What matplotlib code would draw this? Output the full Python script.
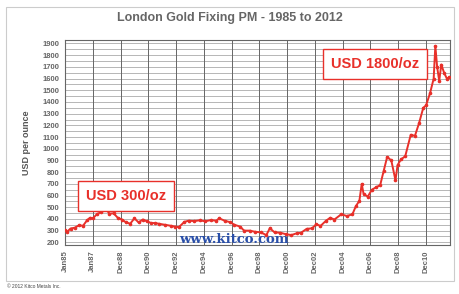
import numpy as np
import matplotlib.pyplot as plt

plt.rcParams['font.family'] = ['Liberation Sans', 'DejaVu Sans']

# London PM fix, approximate readings (decimal year, USD/oz)
dates = [1985.0, 1985.15, 1985.4, 1985.7, 1986.0, 1986.3, 1986.6, 1986.8,
         1987.0, 1987.3, 1987.6, 1987.95, 1988.2, 1988.5, 1988.8, 1989.1,
         1989.4, 1989.7, 1990.0, 1990.3, 1990.6, 1990.9, 1991.2, 1991.5,
         1991.8, 1992.2, 1992.6, 1992.9, 1993.2, 1993.6, 1993.9, 1994.3,
         1994.7, 1995.1, 1995.5, 1995.9, 1996.1, 1996.5, 1996.9, 1997.2,
         1997.6, 1997.9, 1998.3, 1998.7, 1999.1, 1999.5, 1999.75, 2000.1,
         2000.5, 2000.9, 2001.3, 2001.7, 2002.0, 2002.4, 2002.8, 2003.1,
         2003.4, 2003.8, 2004.1, 2004.4, 2004.9, 2005.3, 2005.7, 2005.95,
         2006.2, 2006.37, 2006.5, 2006.8, 2007.1, 2007.4, 2007.7, 2007.95,
         2008.2, 2008.5, 2008.8, 2008.95, 2009.2, 2009.5, 2009.9, 2010.2,
         2010.5, 2010.8, 2011.0, 2011.3, 2011.55, 2011.67, 2011.8, 2011.95,
         2012.1, 2012.3, 2012.5, 2012.65]
prices = [303, 290, 318, 325, 345, 342, 390, 410,
          405, 440, 460, 485, 445, 448, 410, 395,
          370, 360, 405, 370, 395, 380, 365, 365,
          358, 350, 342, 335, 330, 375, 385, 382,
          388, 380, 390, 385, 405, 385, 372, 350,
          335, 300, 300, 290, 285, 262, 320, 285,
          282, 270, 262, 278, 282, 315, 320, 355,
          340, 385, 410, 395, 440, 425, 440, 510,
          555, 700, 615, 590, 650, 670, 690, 810,
          930, 900, 730, 860, 910, 935, 1120, 1110,
          1220, 1350, 1370, 1480, 1600, 1880, 1700, 1580,
          1720, 1650, 1600, 1610]

ytick_vals = list(range(200, 2000, 100))
xtick_years = [1985, 1987] + list(range(1989, 2012, 2))
xtick_labels = ['Jan85', 'Jan87'] + ['Dec%02d' % ((y - 1) % 100) for y in range(1989, 2012, 2)]

fig = plt.figure(figsize=(4.59, 2.94), dpi=100)
fig.patch.set_facecolor('white')
ax = fig.add_axes([0.1416, 0.167, 0.838, 0.697])

ax.set_xlim(1985, 2012.7)
ax.set_ylim(178, 1930)
for yv in range(200, 1950, 50):
    ax.axhline(yv, color='#9a9a9a', lw=0.5, zorder=1)
for xv in xtick_years:
    ax.axvline(xv, color='#666666', lw=0.7, zorder=1)

ax.plot(dates, prices, color='#e8302a', lw=1.4, zorder=3)
ax.plot(dates, prices, 'o', color='#e8302a', ms=1.6, zorder=3)

ax.set_yticks(ytick_vals)
ax.set_yticklabels([str(v) for v in ytick_vals], fontsize=5.5, color='#666666',
                   fontweight='bold')
ax.set_xticks(xtick_years)
ax.set_xticklabels(xtick_labels, rotation=90, fontsize=5.5, color='#666666',
                   fontweight='bold')
ax.tick_params(length=0, pad=4)
for s in ax.spines.values():
    s.set_color('#666666')
    s.set_linewidth(0.8)

ax.set_ylabel('USD per ounce', fontsize=6.5, color='#555555', fontweight='bold',
              labelpad=8)

fig.text(0.5, 0.939, 'London Gold Fixing PM - 1985 to 2012', ha='center',
         va='center', fontsize=9, color='#666666', fontweight='bold')

box = dict(boxstyle='square,pad=0.55', facecolor='white', edgecolor='#e8302a', lw=1.0)
ax.text(1989.4, 600, 'USD 300/oz', fontsize=10.5, color='#e8302a', fontweight='bold',
        ha='center', va='center', bbox=box, zorder=4)
ax.text(2007.3, 1724, 'USD 1800/oz', fontsize=10.5, color='#e8302a', fontweight='bold',
        ha='center', va='center', bbox=box, zorder=4)

ax.text(1993.2, 192, 'www.kitco.com', fontsize=9.5, color='#2a4fa8',
        fontweight='bold', family='DejaVu Serif', zorder=2)

fig.text(0.015, 0.02, '\u00a9 2012 Kitco Metals Inc.', fontsize=3.5, color='#444444')

fig.add_artist(plt.Rectangle((0.012, 0.045), 0.978, 0.93, transform=fig.transFigure,
                             fill=False, edgecolor='#cccccc', lw=0.8))

fig.savefig('out.png', dpi=100)
